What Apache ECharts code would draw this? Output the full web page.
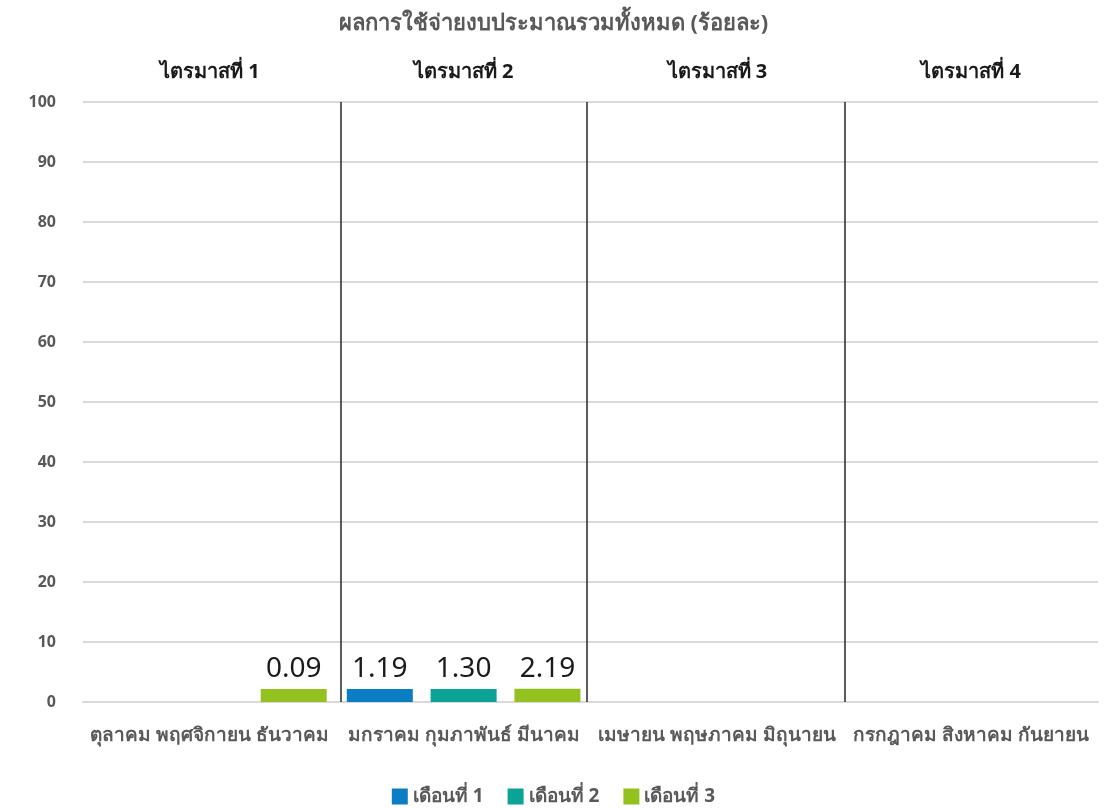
<!DOCTYPE html>
<html>
<head>
<meta charset="utf-8">
<script src="https://cdn.jsdelivr.net/npm/echarts@6/dist/echarts.min.js"></script>
<style>
html,body{margin:0;padding:0;background:#fff;}
#chart{width:1107px;height:808px;}
</style>
</head>
<body>
<div id="chart"></div>
<script>
const titleText = 'ผลการใช้จ่ายงบประมาณรวมทั้งหมด (ร้อยละ)';
const quarters = ['ไตรมาสที่ 1', 'ไตรมาสที่ 2', 'ไตรมาสที่ 3', 'ไตรมาสที่ 4'];
const monthGroups = ['ตุลาคม พฤศจิกายน ธันวาคม', 'มกราคม กุมภาพันธ์ มีนาคม', 'เมษายน พฤษภาคม มิถุนายน', 'กรกฎาคม สิงหาคม กันยายน'];
const seriesNames = ['เดือนที่ 1', 'เดือนที่ 2', 'เดือนที่ 3'];
const month1 = [null, 1.19, null, null];
const month2 = [null, 1.30, null, null];
const month3 = [0.09, 2.19, null, null];
const dividers = [1.017, 1.986, 3.0];
const colors = ['#0B7DC2', '#0AA396', '#93C11F'];

const FONT = '"Noto Sans", "DejaVu Sans", sans-serif';
const chart = echarts.init(document.getElementById('chart'));

function barSeries(name, data, color) {
  return {
    name: name,
    type: 'bar',
    data: data,
    barWidth: 66,
    barGap: '27%',
    barMinHeight: 13,
    itemStyle: { color: color },
    label: {
      show: true,
      position: 'top',
      distance: 6,
      color: '#1a1a1a',
      fontSize: 28,
      fontFamily: FONT,
      formatter: p => p.value == null ? '' : p.value.toFixed(2)
    }
  };
}

chart.setOption({
  animation: false,
  color: colors,
  title: {
    text: titleText,
    left: 'center',
    top: 8,
    textStyle: { color: '#595959', fontSize: 22, fontWeight: 'bold', fontFamily: FONT }
  },
  legend: {
    bottom: -3,
    left: 'center',
    itemWidth: 16,
    itemHeight: 16,
    itemGap: 24,
    icon: 'rect',
    textStyle: { color: '#595959', fontSize: 19, fontWeight: 'bold', fontFamily: FONT },
    data: seriesNames
  },
  grid: { left: 83, right: 9, top: 102, bottom: 106, containLabel: false },
  xAxis: [
    {
      type: 'category',
      data: monthGroups,
      axisLine: { show: true, lineStyle: { color: '#d9d9d9', width: 2 } },
      axisTick: { show: false },
      axisLabel: { color: '#595959', fontSize: 19, fontWeight: 'bold', fontFamily: FONT, margin: 24, interval: 0 }
    },
    {
      type: 'category',
      data: quarters,
      position: 'top',
      axisLine: { show: false },
      axisTick: { show: false },
      axisLabel: { color: '#1a1a1a', fontSize: 20, fontWeight: 'bold', fontFamily: FONT, margin: 20, interval: 0 }
    },
    {
      type: 'value',
      min: 0,
      max: 4,
      show: false
    }
  ],
  yAxis: {
    type: 'value',
    min: 0,
    max: 100,
    interval: 10,
    axisLine: { show: false },
    axisTick: { show: false },
    splitLine: { lineStyle: { color: '#d9d9d9', width: 2 } },
    axisLabel: { color: '#595959', fontSize: 16, fontWeight: 'bold', fontFamily: FONT, margin: 27 }
  },
  series: [
    barSeries(seriesNames[0], month1, colors[0]),
    barSeries(seriesNames[1], month2, colors[1]),
    barSeries(seriesNames[2], month3, colors[2]),
    {
      type: 'scatter',
      xAxisIndex: 2,
      yAxisIndex: 0,
      symbolSize: 0,
      data: dividers.map(v => [v, 0]),
      silent: true,
      z: 5,
      markLine: {
        symbol: 'none',
        silent: true,
        label: { show: false },
        lineStyle: { color: '#262626', width: 1.5, type: 'solid' },
        data: dividers.map(v => [{ coord: [v, 0] }, { coord: [v, 100] }])
      }
    }
  ]
});
</script>
</body>
</html>
